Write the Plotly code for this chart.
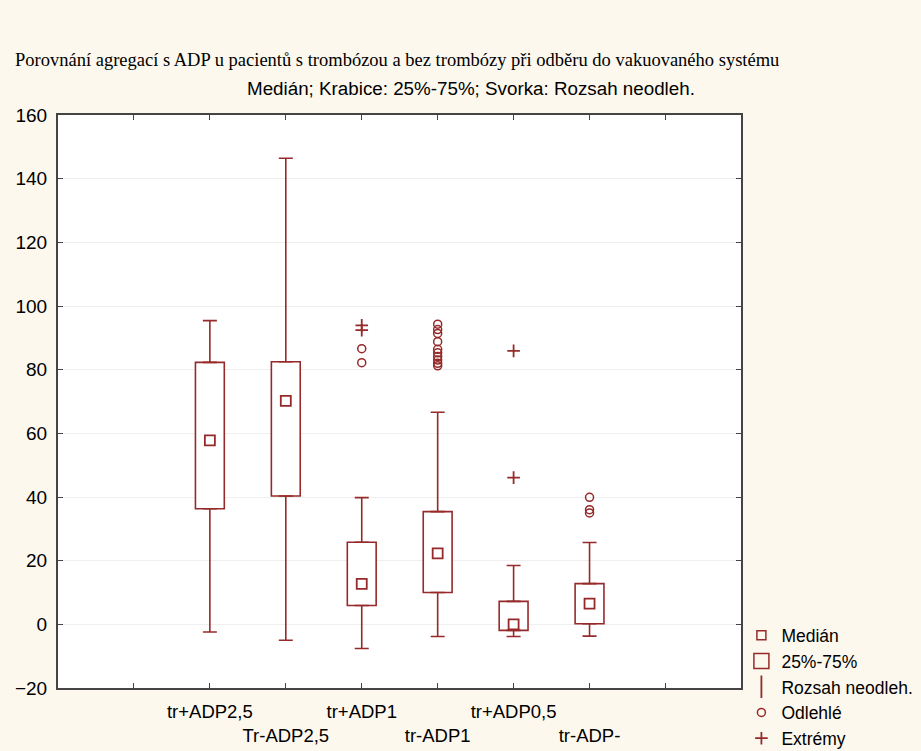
import plotly.graph_objects as go

categories = ["tr+ADP2,5", "Tr-ADP2,5", "tr+ADP1", "tr-ADP1", "tr+ADP0,5", "tr-ADP-"]
median = [57.8, 70.2, 12.7, 22.3, 0.0, 6.5]
q1 = [36.3, 40.3, 5.9, 10.0, -1.9, 0.2]
q3 = [82.3, 82.5, 25.8, 35.4, 7.2, 12.8]
whisk_low = [-2.4, -5.0, -7.6, -3.8, -3.8, -3.7]
whisk_high = [95.4, 146.4, 39.8, 66.6, 18.5, 25.7]

outlier_cat = ["tr+ADP1", "tr+ADP1",
               "tr-ADP1", "tr-ADP1", "tr-ADP1", "tr-ADP1", "tr-ADP1",
               "tr-ADP1", "tr-ADP1", "tr-ADP1", "tr-ADP1", "tr-ADP1",
               "tr-ADP-", "tr-ADP-", "tr-ADP-"]
outlier_val = [86.6, 82.2,
               94.3, 92.6, 91.4, 88.8, 86.4, 85.3, 84.1, 83.0, 82.0, 81.2,
               39.9, 36.0, 35.0]
extreme_cat = ["tr+ADP1", "tr+ADP1", "tr+ADP0,5", "tr+ADP0,5"]
extreme_val = [93.9, 92.4, 85.9, 46.1]

y_ticks = [-20, 0, 20, 40, 60, 80, 100, 120, 140, 160]

RED = "#962a2a"
BG = "#fdf8ee"
FONT = "Liberation Sans, Arial, sans-serif"

pos = {c: i + 1 for i, c in enumerate(categories)}
xs = [pos[c] for c in categories]

fig = go.Figure()

# boxes (25%-75%)
fig.add_trace(go.Bar(
    x=xs, y=[b - a for a, b in zip(q1, q3)], base=q1, width=0.38,
    marker=dict(color="white", line=dict(color=RED, width=1.6)),
    name="25%-75%", showlegend=False, hoverinfo="skip"))

# upper whiskers
fig.add_trace(go.Scatter(
    x=xs, y=q3, mode="markers",
    marker=dict(size=1, color="rgba(0,0,0,0)"),
    error_y=dict(type="data", symmetric=False,
                 array=[h - t for h, t in zip(whisk_high, q3)],
                 arrayminus=[0] * len(q3), color=RED, thickness=1.6, width=7),
    showlegend=False, hoverinfo="skip"))
# lower whiskers
fig.add_trace(go.Scatter(
    x=xs, y=q1, mode="markers",
    marker=dict(size=1, color="rgba(0,0,0,0)"),
    error_y=dict(type="data", symmetric=False,
                 array=[0] * len(q1),
                 arrayminus=[b - l for b, l in zip(q1, whisk_low)],
                 color=RED, thickness=1.6, width=7),
    showlegend=False, hoverinfo="skip"))

# medians
fig.add_trace(go.Scatter(
    x=xs, y=median, mode="markers",
    marker=dict(symbol="square-open", size=10, color=RED, line=dict(width=1.8)),
    showlegend=False))

# outliers
fig.add_trace(go.Scatter(
    x=[pos[c] for c in outlier_cat], y=outlier_val, mode="markers",
    marker=dict(symbol="circle-open", size=8, color=RED, line=dict(width=1.5)),
    showlegend=False))

# extremes
fig.add_trace(go.Scatter(
    x=[pos[c] for c in extreme_cat], y=extreme_val, mode="markers",
    marker=dict(symbol="cross-thin-open", size=9, color=RED, line=dict(width=1.8, color=RED)),
    showlegend=False))

# legend entries
fig.add_trace(go.Scatter(x=[None], y=[None], mode="markers", name="Medián",
                         marker=dict(symbol="square-open", size=9, color=RED, line=dict(width=1.5))))
fig.add_trace(go.Scatter(x=[None], y=[None], mode="markers", name="25%-75%",
                         marker=dict(symbol="square-open", size=15, color=RED, line=dict(width=1.5))))
fig.add_trace(go.Scatter(x=[None], y=[None], mode="markers", name="Rozsah neodleh.",
                         marker=dict(symbol="line-ns-open", size=16, color=RED, line=dict(width=1.8, color=RED))))
fig.add_trace(go.Scatter(x=[None], y=[None], mode="markers", name="Odlehlé",
                         marker=dict(symbol="circle-open", size=8, color=RED, line=dict(width=1.5))))
fig.add_trace(go.Scatter(x=[None], y=[None], mode="markers", name="Extrémy",
                         marker=dict(symbol="cross-thin-open", size=9, color=RED, line=dict(width=1.8, color=RED))))

ticktext = [""]
for i, c in enumerate(categories):
    ticktext.append(c if i % 2 == 0 else "<br>" + c)
ticktext.append("")

fig.update_layout(
    width=921, height=751,
    paper_bgcolor=BG, plot_bgcolor="white",
    margin=dict(l=58, r=178, t=115, b=63),
    font=dict(family=FONT, size=19, color="black"),
    showlegend=True,
    legend=dict(xref="container", yref="container",
                x=0.805, y=0.178, xanchor="left", yanchor="top",
                bgcolor="rgba(0,0,0,0)", font=dict(family=FONT, size=17.5),
                itemwidth=30, tracegroupgap=0),
    xaxis=dict(range=[-1, 8], tickmode="array", tickvals=list(range(0, 8)),
               ticktext=ticktext, ticks="inside", ticklen=5, tickcolor="#444",
               tickangle=0, automargin=False, ticklabelstandoff=6,
               showline=True, linecolor="#444", linewidth=2, mirror="ticks",
               showgrid=False, zeroline=False, tickfont=dict(size=18.5)),
    yaxis=dict(range=[-20, 160], tickmode="array", tickvals=y_ticks,
               ticks="inside", ticklen=5, tickcolor="#444", automargin=False,
               ticklabelstandoff=5,
               showline=True, linecolor="#444", linewidth=2, mirror="ticks",
               showgrid=True, gridcolor="#efefef", gridwidth=1, zeroline=False,
               tickfont=dict(size=19)),
    annotations=[
        dict(text="Porovnání agregací s ADP u pacientů s trombózou a bez trombózy při odběru do vakuovaného systému",
             xref="paper", yref="paper", x=-0.066, y=1.096, xanchor="left", yanchor="middle",
             showarrow=False, font=dict(family="Liberation Serif, Times New Roman, serif", size=18.5)),
        dict(text="Medián; Krabice: 25%-75%; Svorka: Rozsah neodleh.",
             xref="paper", yref="paper", x=0.604, y=1.047, xanchor="center", yanchor="middle",
             showarrow=False, font=dict(family=FONT, size=18.8)),
    ],
)

fig.write_html("out.html")
